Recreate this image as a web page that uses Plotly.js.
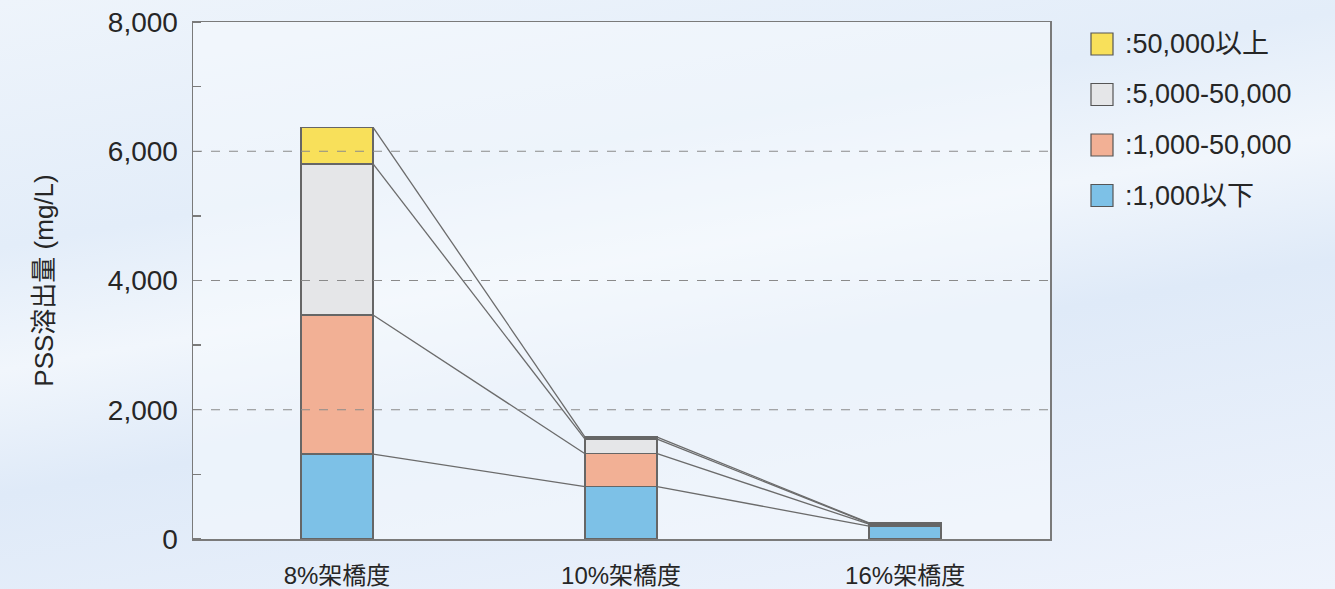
<!DOCTYPE html>
<html>
<head>
<meta charset="utf-8">
<script src="https://cdn.plot.ly/plotly-3.0.1.min.js"></script>
<style>
  html, body { margin: 0; padding: 0; }
  body {
    width: 1335px; height: 589px; overflow: hidden;
    background: linear-gradient(170deg, #eef4fb 0%, #e3edf9 30%, #f1f6fc 45%, #dfeaf8 60%, #eef3fc 100%);
  }
  #chart { width: 1335px; height: 589px; }
</style>
</head>
<body>
<div id="chart"></div>
<script>
// ---- data ----
var categories = ["8%架橋度", "10%架橋度", "16%架橋度"];
var seriesNames = [":1,000以下", ":1,000-50,000", ":5,000-50,000", ":50,000以上"];
var below1000 = [1315, 810, 200];
var from1000to50000 = [2150, 510, 30];
var from5000to50000 = [2340, 225, 12];
var above50000 = [565, 32, 6];
var yTickValues = [0, 2000, 4000, 6000, 8000];
var gridValues = [2000, 4000, 6000];

// ---- styles ----
var colors = ["#7dc1e7", "#f2b095", "#e5e6e8", "#f8e05a"];
var outline = "#666666";
var barWidth = 0.254;
var fontFam = "'Liberation Sans', Arial, 'Noto Sans CJK JP', sans-serif";
var textColor = "#262626";

var series = [below1000, from1000to50000, from5000to50000, above50000];
var xIdx = categories.map(function (_, i) { return i; });

var traces = [];
series.forEach(function (vals, k) {
  traces.push({
    type: "bar",
    x: xIdx,
    y: vals,
    width: barWidth,
    name: seriesNames[k],
    marker: { color: colors[k], line: { color: outline, width: 1.5 } },
    showlegend: false,
    hoverinfo: "y+name"
  });
});

// connector lines between stack tops
var cum = xIdx.map(function () { return 0; });
series.forEach(function (vals) {
  cum = cum.map(function (c, i) { return c + vals[i]; });
  for (var i = 0; i < xIdx.length - 1; i++) {
    traces.push({
      type: "scatter",
      mode: "lines",
      x: [xIdx[i] + barWidth / 2, xIdx[i + 1] - barWidth / 2],
      y: [cum[i], cum[i + 1]],
      line: { color: "#6b6b6b", width: 1.3 },
      showlegend: false,
      hoverinfo: "skip"
    });
  }
});

var shapes = gridValues.map(function (v) {
  return {
    type: "line", xref: "paper", yref: "y", x0: 0, x1: 1, y0: v, y1: v,
    line: { color: "#8a8a8a", width: 1.2, dash: "dash" }, layer: "above"
  };
});

// custom legend (top entry = last series)
var annotations = [];
var legendTop = 44, legendStep = 50.5;
for (var j = 0; j < seriesNames.length; j++) {
  var k = seriesNames.length - 1 - j;
  var cy = legendTop + j * legendStep;
  shapes.push({
    type: "rect", xref: "paper", yref: "paper",
    x0: (1091 - 193) / (1050 - 193), x1: (1113 - 193) / (1050 - 193),
    y0: (539 - (cy + 11)) / (539 - 22), y1: (539 - (cy - 11)) / (539 - 22),
    fillcolor: colors[k], line: { color: "#555555", width: 1.2 }
  });
  annotations.push({
    xref: "paper", yref: "paper",
    x: (1123 - 193) / (1050 - 193), y: (539 - cy) / (539 - 22),
    xanchor: "left", yanchor: "middle", showarrow: false,
    text: seriesNames[k],
    font: { family: fontFam, size: 27, color: textColor }
  });
}

var layout = {
  width: 1335, height: 589,
  margin: { l: 193, r: 285, t: 22, b: 50 },
  paper_bgcolor: "rgba(0,0,0,0)",
  plot_bgcolor: "rgba(246,249,253,0.55)",
  barmode: "stack",
  showlegend: false,
  font: { family: fontFam, color: textColor },
  xaxis: {
    type: "linear",
    range: [-0.507, 2.51],
    tickvals: xIdx, ticktext: categories,
    ticks: "", showgrid: false, zeroline: false,
    showline: true, mirror: true, linecolor: "#7a7a7a", linewidth: 1.5,
    ticklabelstandoff: 15,
    tickfont: { size: 24, color: textColor, family: fontFam },
    fixedrange: true
  },
  yaxis: {
    range: [0, 8000],
    tickvals: yTickValues, tickformat: ",d",
    ticks: "", showgrid: false, zeroline: false,
    showline: true, mirror: true, linecolor: "#7a7a7a", linewidth: 1.5,
    ticklabelstandoff: 8,
    tickfont: { size: 28, color: textColor, family: fontFam },
    minor: { ticks: "inside", dtick: 1000, tick0: 0, ticklen: 8, tickcolor: "#7a7a7a", tickwidth: 1.3, showgrid: false },
    title: { text: "PSS溶出量 (mg/L)", standoff: 46, font: { size: 26, color: textColor, family: fontFam } },
    fixedrange: true
  },
  shapes: shapes,
  annotations: annotations
};

Plotly.newPlot("chart", traces, layout, { displayModeBar: false, staticPlot: true });
</script>
</body>
</html>
